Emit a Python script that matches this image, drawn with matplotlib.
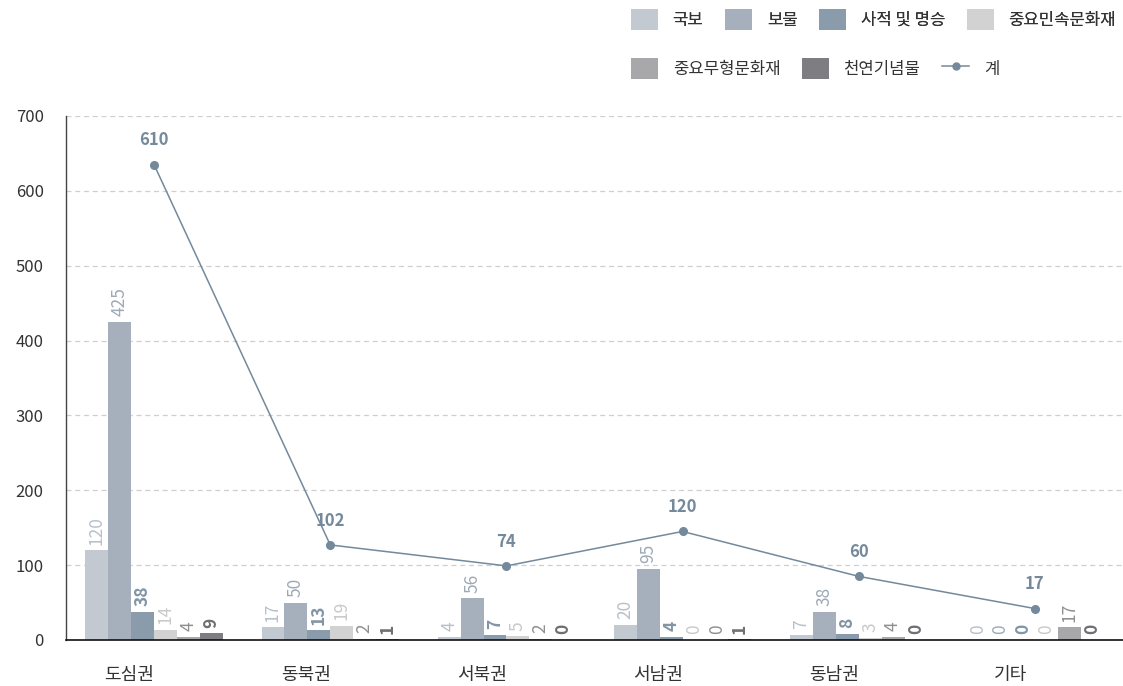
import matplotlib.pyplot as plt
import numpy as np
from matplotlib.patches import Patch
from matplotlib.lines import Line2D

plt.rcParams['font.family'] = ['Noto Sans CJK KR', 'DejaVu Sans']

# 권역
regions = ['도심권', '동북권', '서북권', '서남권', '동남권', '기타']

# 종류별 문화재 수
series_names = ['국보', '보물', '사적 및 명승', '중요민속문화재', '중요무형문화재', '천연기념물']
gukbo = [120, 17, 4, 20, 7, 0]
bomul = [425, 50, 56, 95, 38, 0]
sajeok = [38, 13, 7, 4, 8, 0]
minsok = [14, 19, 5, 0, 3, 0]
muhyeong = [4, 2, 2, 0, 4, 17]
cheonyeon = [9, 1, 0, 1, 0, 0]
total = [610, 102, 74, 120, 60, 17]

series = [gukbo, bomul, sajeok, minsok, muhyeong, cheonyeon]
bar_colors = ['#c3c9d0', '#a5b0bc', '#8a9cab', '#d2d2d2', '#a8a8ab', '#7e7e82']
label_colors = ['#b9c0c8', '#9eaab6', '#8295a5', '#c9c9c9', '#8f8f92', '#6f6f73']
label_weights = ['normal', 'normal', 'bold', 'normal', 'normal', 'bold']
line_color = '#74899b'

fig = plt.figure(figsize=(11.23, 6.86), dpi=100)
ax = fig.add_axes([66 / 1123, 1 - 640 / 686, 1 - 66 / 1123, 524 / 686])

x = np.arange(len(regions))
w = 0.13
for i, vals in enumerate(series):
    bars = ax.bar(x + (i - 2.5) * w, vals, w, color=bar_colors[i], zorder=2)
    ax.bar_label(bars, rotation=90, padding=4, color=label_colors[i],
                 fontsize=12.5, fontweight=label_weights[i])

ax.set_xlim(-0.5, 5.5)
ax.set_ylim(0, 700)
ax.set_yticks(range(0, 701, 100))
ax.yaxis.grid(True, linestyle=(0, (4, 3)), color='#cfcfcf', linewidth=0.9)
ax.set_axisbelow(True)
ax.tick_params(axis='y', length=0, pad=16, labelsize=12, labelcolor='#333333')
ax.set_xticks(x - 0.14)
ax.set_xticklabels(regions)
ax.tick_params(axis='x', length=0, pad=19, labelsize=13, labelcolor='#333333')
for s in ['top', 'right']:
    ax.spines[s].set_visible(False)
ax.spines['left'].set_color('#444444')
ax.spines['bottom'].set_color('#111111')
ax.spines['left'].set_linewidth(1.0)
ax.spines['bottom'].set_linewidth(1.2)

ax2 = ax.twinx()
ax2.set_ylim(-25, 675)
ax2.set_axis_off()
ax2.plot(x, total, color=line_color, linewidth=1.1, marker='o', markersize=5.5, zorder=3)
for xi, v in zip(x, total):
    ax2.annotate(str(v), (xi, v), xytext=(0, 11), textcoords='offset points',
                 ha='center', va='bottom', color=line_color, fontsize=12,
                 fontweight='bold')

handles = [Patch(facecolor=c, edgecolor='none') for c in bar_colors]
row1 = fig.legend(handles[:4], series_names[:4], loc='upper left',
                  bbox_to_anchor=(616 / 1123, 1 + 6 / 686), ncol=4, frameon=False,
                  fontsize=12, handlelength=1.6, handleheight=1.6,
                  columnspacing=1.3, handletextpad=0.9, labelcolor='#333333')
line_handle = Line2D([], [], color=line_color, marker='o', markersize=5, linewidth=1.1)
fig.legend(handles[4:] + [line_handle], series_names[4:] + ['계'], loc='upper left',
           bbox_to_anchor=(616 / 1123, 1 - 43 / 686), ncol=3, frameon=False,
           fontsize=12, handlelength=1.6, handleheight=1.6,
           columnspacing=1.3, handletextpad=0.9, labelcolor='#333333')
fig.add_artist(row1)

fig.savefig('out.png', dpi=100)
